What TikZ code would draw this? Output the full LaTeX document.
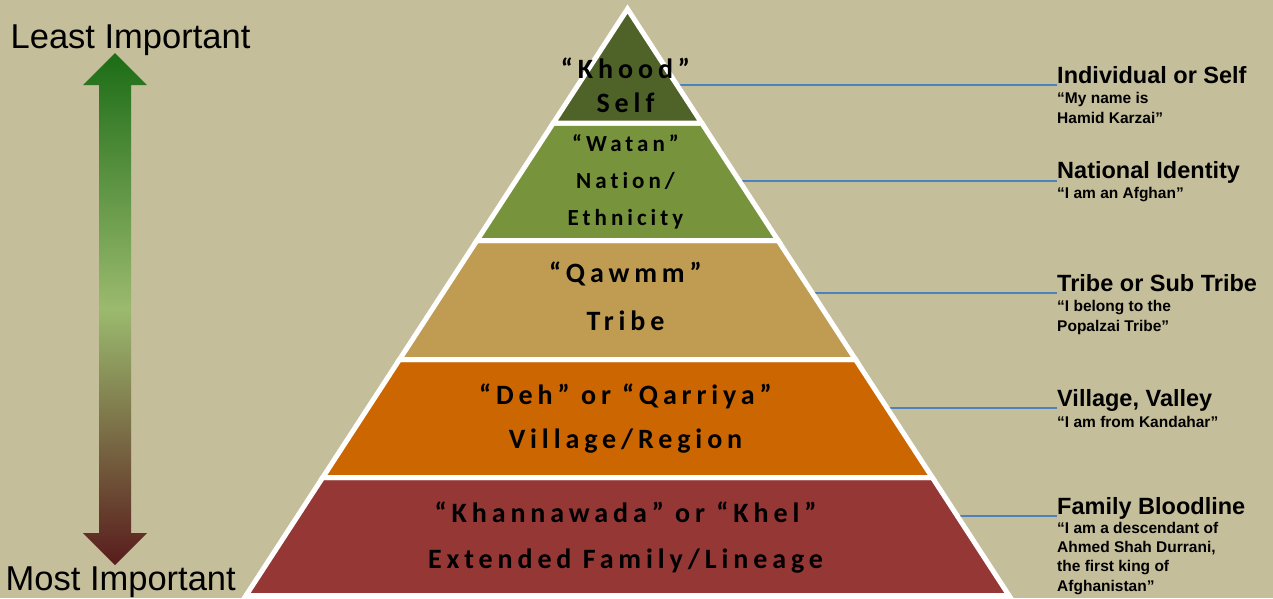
\documentclass[tikz,border=0pt]{standalone}
\usepackage{fontspec}
\setmainfont{Liberation Sans}
\newfontfamily\pyrfont{Carlito}[LetterSpace=17.5, Ligatures={NoCommon}]
\definecolor{bgc}{RGB}{197,190,154}
\definecolor{cself}{RGB}{79,98,40}
\definecolor{cnation}{RGB}{119,147,60}
\definecolor{ctribe}{RGB}{192,155,82}
\definecolor{cvillage}{RGB}{204,102,0}
\definecolor{cfamily}{RGB}{149,55,53}
\definecolor{cblue}{RGB}{79,129,189}
\definecolor{agreen}{RGB}{28,108,22}
\definecolor{alight}{RGB}{155,186,110}
\definecolor{ared}{RGB}{88,28,28}
\tikzset{
  layer/.style={draw=white, line width=5pt, line join=miter},
  ptext/.style={anchor=base, inner sep=0pt, font=\pyrfont\bfseries\fontsize{28}{30}\selectfont},
  wtext/.style={ptext, font=\pyrfont\bfseries\fontsize{23}{26}\selectfont},
  hdr/.style={anchor=base west, inner sep=0pt, font=\bfseries\fontsize{23.5}{26}\selectfont},
  sub/.style={anchor=base west, inner sep=0pt, align=left, font=\bfseries\fontsize{15.5}{19.3}\selectfont},
  side/.style={anchor=base west, inner sep=0pt, font=\fontsize{34.5}{38}\selectfont},
  link/.style={draw=cblue, line width=1.5pt},
}
\begin{document}
\begin{tikzpicture}[x=1pt,y=-1pt]
\fill[bgc] (0,0) rectangle (1273,598);
\useasboundingbox (0,0) rectangle (1273,598);

% left arrow
\shade[top color=agreen, bottom color=ared, middle color=alight]
  (115,53) -- (147,85) -- (131,85) -- (131,533) -- (147,533) -- (115,565)
  -- (83,533) -- (99,533) -- (99,85) -- (83,85) -- cycle;
\node[side] (least) at (10.5,48) {Least Important};
\node[side] (most) at (5.5,590) {Most Important};

% connector start points on the pyramid edge
\coordinate (e1) at (676.9,85);
\coordinate (e2) at (739.4,181);
\coordinate (e3) at (812.2,293);
\coordinate (e4) at (887.1,408);
\coordinate (e5) at (957.3,516);
\coordinate (t1) at (1057,85);
\coordinate (t2) at (1057,181);
\coordinate (t3) at (1057,293);
\coordinate (t4) at (1057,408);
\coordinate (t5) at (1057,516);
\draw[link] (e1) -- (t1);
\draw[link] (e2) -- (t2);
\draw[link] (e3) -- (t3);
\draw[link] (e4) -- (t4);
\draw[link] (e5) -- (t5);

% pyramid layers
\filldraw[layer, fill=cfamily]  (246,595.5) -- (1009,595.5) -- (932.3,477.5) -- (322.7,477.5) -- cycle;
\filldraw[layer, fill=cvillage] (322.7,477.5) -- (932.3,477.5) -- (855.5,359.5) -- (399.5,359.5) -- cycle;
\filldraw[layer, fill=ctribe]   (399.5,359.5) -- (855.5,359.5) -- (778.1,240.5) -- (476.9,240.5) -- cycle;
\filldraw[layer, fill=cnation]  (476.9,240.5) -- (778.1,240.5) -- (701.7,123) -- (553.3,123) -- cycle;
\filldraw[layer, fill=cself]    (553.3,123) -- (701.7,123) -- (627.5,9) -- cycle;

% pyramid texts
\node[ptext] (k1) at (625.5,78) {“Khood”};
\node[ptext] (k2) at (625.5,112) {Self};
\node[wtext] (w1) at (625.5,151) {“Watan”};
\node[wtext] (w2) at (625.5,188) {Nation/};
\node[wtext] (w3) at (625.5,225) {Ethnicity};
\node[ptext] (q1) at (625.5,282) {“Qawmm”};
\node[ptext] (q2) at (625.5,330) {Tribe};
\node[ptext] (d1) at (625.5,404) {“Deh” or “Qarriya”};
\node[ptext] (d2) at (625.5,448) {Village/Region};
\node[ptext] (f1) at (625.5,522) {“Khannawada” or “Khel”};
\node[ptext] (f2) at (625.5,568) {Extended Family/Lineage};

% right labels
\node[hdr] (h1) at (1057,83) {Individual or Self};
\node[sub] (s1) at (1057,123) {“My name is\\Hamid Karzai”};
\node[hdr] (h2) at (1057,178) {National Identity};
\node[sub] (s2) at (1057,198) {“I am an Afghan”};
\node[hdr] (h3) at (1057,291) {Tribe or Sub Tribe};
\node[sub] (s3) at (1057,331) {“I belong to the\\Popalzai Tribe”};
\node[hdr] (h4) at (1057,406) {Village, Valley};
\node[sub] (s4) at (1057,427) {“I am from Kandahar”};
\node[hdr] (h5) at (1057,514) {Family Bloodline};
\node[sub] (s5) at (1057,591) {“I am a descendant of\\Ahmed Shah Durrani,\\the first king of\\Afghanistan”};
\end{tikzpicture}
\end{document}
